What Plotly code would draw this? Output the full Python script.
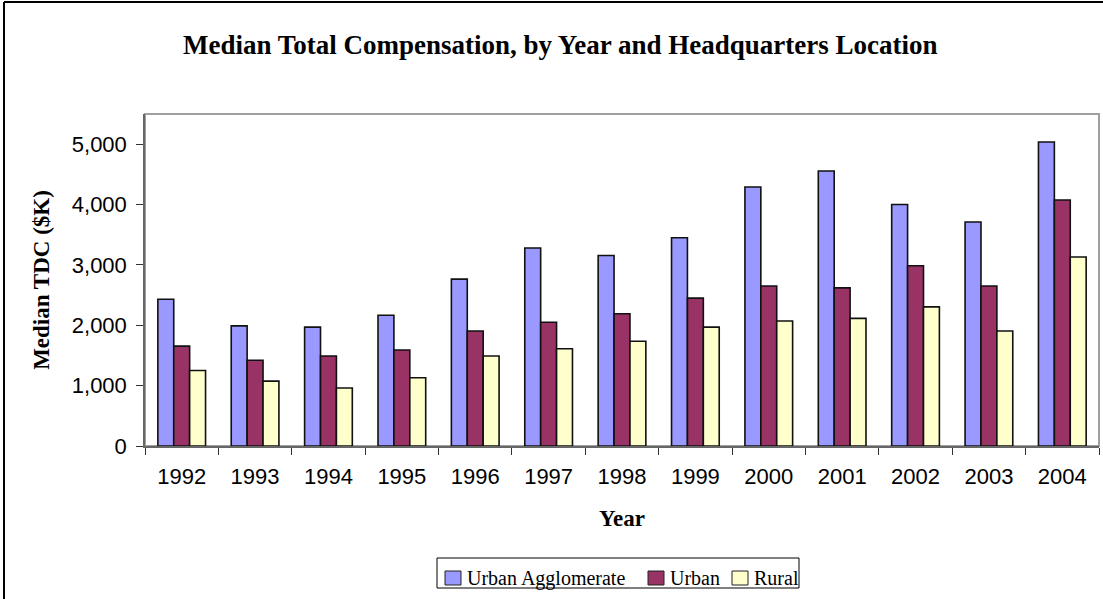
import plotly.graph_objects as go

# Data (median TDC, $K)
years = ["1992", "1993", "1994", "1995", "1996", "1997", "1998",
         "1999", "2000", "2001", "2002", "2003", "2004"]
urban_agglomerate = [2430, 1990, 1970, 2165, 2765, 3280, 3155,
                     3450, 4290, 4555, 4000, 3710, 5035]
urban = [1655, 1420, 1490, 1590, 1905, 2050, 2190,
         2450, 2650, 2620, 2985, 2650, 4075]
rural = [1250, 1075, 960, 1130, 1490, 1610, 1735,
         1970, 2070, 2115, 2305, 1905, 3130]

y_ticks = [0, 1000, 2000, 3000, 4000, 5000]
series_names = ["Urban Agglomerate", "Urban", "Rural"]
series_colors = ["#9999FF", "#993366", "#FFFFCC"]

W, H = 1103, 599
L, R, T, B = 145, 4, 114, 153
PW, PH = W - L - R, H - T - B


def px(x):
    # page pixel -> paper x
    return (x - L) / PW


def py(y):
    # page pixel (from top) -> paper y
    return (H - B - y) / PH


serif = "Liberation Serif, Times New Roman, serif"
sans = "Liberation Sans, Arial, sans-serif"

fig = go.Figure()
for name, vals, color in zip(series_names, [urban_agglomerate, urban, rural], series_colors):
    fig.add_trace(go.Bar(
        x=years, y=vals, name=name, showlegend=False,
        marker=dict(color=color, line=dict(color="#111111", width=1.6)),
    ))

shapes = [
    # grey plot-area border
    dict(type="rect", xref="paper", yref="paper", x0=0, x1=1, y0=0, y1=1,
         line=dict(color="#A0A0A0", width=2), layer="below"),
    # outer frame (left and top edges visible)
    dict(type="line", xref="paper", yref="paper",
         x0=px(4), x1=px(4), y0=py(2), y1=py(600),
         line=dict(color="black", width=2)),
    dict(type="line", xref="paper", yref="paper",
         x0=px(4), x1=px(1103), y0=py(2), y1=py(2),
         line=dict(color="black", width=2)),
    # legend box
    dict(type="rect", xref="paper", yref="paper",
         x0=px(437), x1=px(799), y0=py(558), y1=py(588),
         line=dict(color="black", width=1), fillcolor="white"),
]
annotations = [dict(
    text="<b>Median Total Compensation, by Year and Headquarters Location</b>",
    xref="paper", yref="paper", x=px(560), y=py(45),
    xanchor="center", yanchor="middle", showarrow=False,
    font=dict(family=serif, size=27, color="black"),
)]

# hand-built legend, laid out like the original
legend_swatch_x = [445, 648, 732]
for sx, name, color in zip(legend_swatch_x, series_names, series_colors):
    shapes.append(dict(
        type="rect", xref="paper", yref="paper",
        x0=px(sx), x1=px(sx + 16), y0=py(571), y1=py(585),
        line=dict(color="#222222", width=1), fillcolor=color,
    ))
    annotations.append(dict(
        text=name, xref="paper", yref="paper", x=px(sx + 20), y=py(578),
        xanchor="left", yanchor="middle", showarrow=False,
        font=dict(family=serif, size=20, color="black"),
    ))

fig.update_layout(
    width=W, height=H,
    margin=dict(l=L, r=R, t=T, b=B),
    paper_bgcolor="white",
    plot_bgcolor="white",
    barmode="group",
    bargap=0.35,
    bargroupgap=0,
    xaxis=dict(
        type="category",
        showline=True, linecolor="#666666", linewidth=1.5,
        ticks="outside", tickson="boundaries", ticklen=7,
        tickcolor="#333333",
        tickfont=dict(family=sans, size=22, color="black"),
        ticklabelstandoff=10,
        showgrid=False, zeroline=False,
        title=dict(text="<b>Year</b>", standoff=22,
                   font=dict(family=serif, size=23, color="black")),
    ),
    yaxis=dict(
        range=[0, 5500],
        tickvals=y_ticks,
        tickformat=",d",
        showline=True, linecolor="#666666", linewidth=1.5,
        ticks="outside", ticklen=7, tickcolor="#333333",
        tickfont=dict(family=sans, size=22, color="black"),
        ticklabelstandoff=5,
        showgrid=False, zeroline=False,
        title=dict(text="<b>Median TDC ($K)</b>", standoff=16,
                   font=dict(family=serif, size=23, color="black")),
    ),
    annotations=annotations,
    shapes=shapes,
)

fig.write_html("out.html", config={"displayModeBar": False},
               post_script="document.body.style.margin='0';")
